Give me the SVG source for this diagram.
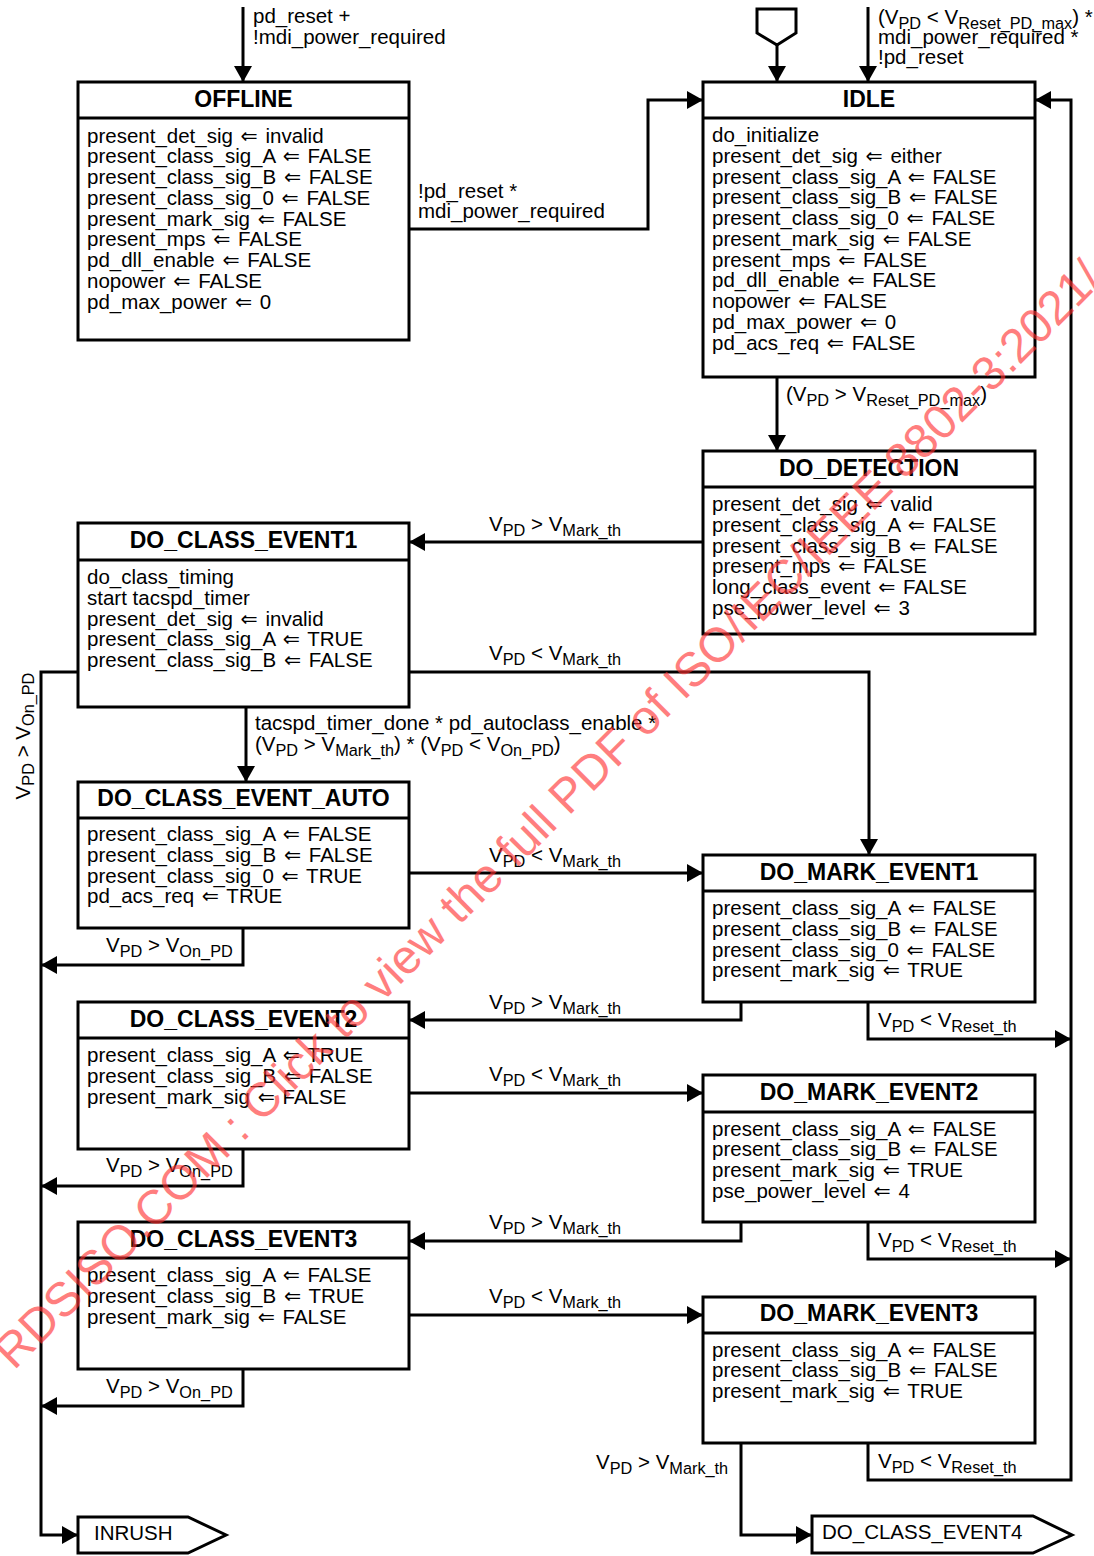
<svg xmlns="http://www.w3.org/2000/svg" width="1094" height="1556" viewBox="0 0 1094 1556">
<style>
.box{fill:#fff;stroke:#000;stroke-width:3}
.dv{stroke:#000;stroke-width:3}
.ln{fill:none;stroke:#000;stroke-width:3}
text{font-family:"Liberation Sans",Arial,"DejaVu Sans",sans-serif;font-size:20.5px;fill:#000}
.h{font-weight:bold;font-size:23px;text-anchor:middle}
.s{font-size:16.3px}
.wm{font-size:48px;fill:#ff3030;opacity:0.62}
</style>
<defs>
<marker id="a" markerUnits="userSpaceOnUse" markerWidth="16" markerHeight="18" refX="16" refY="9" orient="auto" viewBox="0 0 16 18"><path d="M0,0 L16,9 L0,18 z" fill="#000"/></marker>
</defs>
<rect width="1094" height="1556" fill="#fff"/>

<g id="connectors">
<path class="ln" d="M243,7 V82" marker-end="url(#a)"/>
<path class="ln" d="M868,7 V82" marker-end="url(#a)"/>
<path class="ln" d="M777,45 V82" marker-end="url(#a)"/>
<path class="ln" d="M409,229 H648 V100 H703" marker-end="url(#a)"/>
<path class="ln" d="M777,377 V451" marker-end="url(#a)"/>
<path class="ln" d="M703,542 H409" marker-end="url(#a)"/>
<path class="ln" d="M409,672 H869 V855" marker-end="url(#a)"/>
<path class="ln" d="M78,672 H41 V1535 H78" marker-end="url(#a)"/>
<path class="ln" d="M246,707 V782" marker-end="url(#a)"/>
<path class="ln" d="M409,873 H703" marker-end="url(#a)"/>
<path class="ln" d="M243,928 V965 H41" marker-end="url(#a)"/>
<path class="ln" d="M741,1002 V1020 H409" marker-end="url(#a)"/>
<path class="ln" d="M868,1002 V1039 H1071" marker-end="url(#a)"/>
<path class="ln" d="M409,1093 H703" marker-end="url(#a)"/>
<path class="ln" d="M243,1149 V1186 H41" marker-end="url(#a)"/>
<path class="ln" d="M741,1222 V1241 H409" marker-end="url(#a)"/>
<path class="ln" d="M868,1222 V1259 H1071" marker-end="url(#a)"/>
<path class="ln" d="M409,1315 H703" marker-end="url(#a)"/>
<path class="ln" d="M243,1369 V1406 H41" marker-end="url(#a)"/>
<path class="ln" d="M741,1443 V1535 H812" marker-end="url(#a)"/>
<path class="ln" d="M868,1443 V1480 H1071 V100 H1035" marker-end="url(#a)"/>

<text x="253" y="23">pd_reset +</text>
<text x="253" y="43.5">!mdi_power_required</text>
<text x="878" y="24">(V<tspan class="s" dy="4.5">PD</tspan><tspan dy="-4.5"> &lt; V</tspan><tspan class="s" dy="4.5">Reset_PD_max</tspan><tspan dy="-4.5">) *</tspan></text>
<text x="878" y="44">mdi_power_required *</text>
<text x="878" y="64">!pd_reset</text>
<text x="418" y="197.5">!pd_reset *</text>
<text x="418" y="218">mdi_power_required</text>
<text x="786" y="401">(V<tspan class="s" dy="4.5">PD</tspan><tspan dy="-4.5"> &gt; V</tspan><tspan class="s" dy="4.5">Reset_PD_max</tspan><tspan dy="-4.5">)</tspan></text>
<text x="489" y="531">V<tspan class="s" dy="4.5">PD</tspan><tspan dy="-4.5"> &gt; V</tspan><tspan class="s" dy="4.5">Mark_th</tspan></text>
<text x="489" y="660">V<tspan class="s" dy="4.5">PD</tspan><tspan dy="-4.5"> &lt; V</tspan><tspan class="s" dy="4.5">Mark_th</tspan></text>
<text x="255" y="730">tacspd_timer_done * pd_autoclass_enable *</text>
<text x="255" y="751">(V<tspan class="s" dy="4.5">PD</tspan><tspan dy="-4.5"> &gt; V</tspan><tspan class="s" dy="4.5">Mark_th</tspan><tspan dy="-4.5">) * (V</tspan><tspan class="s" dy="4.5">PD</tspan><tspan dy="-4.5"> &lt; V</tspan><tspan class="s" dy="4.5">On_PD</tspan><tspan dy="-4.5">)</tspan></text>
<text x="489" y="862">V<tspan class="s" dy="4.5">PD</tspan><tspan dy="-4.5"> &lt; V</tspan><tspan class="s" dy="4.5">Mark_th</tspan></text>
<text x="106" y="952">V<tspan class="s" dy="4.5">PD</tspan><tspan dy="-4.5"> &gt; V</tspan><tspan class="s" dy="4.5">On_PD</tspan></text>
<text x="489" y="1009">V<tspan class="s" dy="4.5">PD</tspan><tspan dy="-4.5"> &gt; V</tspan><tspan class="s" dy="4.5">Mark_th</tspan></text>
<text x="878" y="1027">V<tspan class="s" dy="4.5">PD</tspan><tspan dy="-4.5"> &lt; V</tspan><tspan class="s" dy="4.5">Reset_th</tspan></text>
<text x="489" y="1081">V<tspan class="s" dy="4.5">PD</tspan><tspan dy="-4.5"> &lt; V</tspan><tspan class="s" dy="4.5">Mark_th</tspan></text>
<text x="106" y="1172">V<tspan class="s" dy="4.5">PD</tspan><tspan dy="-4.5"> &gt; V</tspan><tspan class="s" dy="4.5">On_PD</tspan></text>
<text x="489" y="1229">V<tspan class="s" dy="4.5">PD</tspan><tspan dy="-4.5"> &gt; V</tspan><tspan class="s" dy="4.5">Mark_th</tspan></text>
<text x="878" y="1247">V<tspan class="s" dy="4.5">PD</tspan><tspan dy="-4.5"> &lt; V</tspan><tspan class="s" dy="4.5">Reset_th</tspan></text>
<text x="489" y="1303">V<tspan class="s" dy="4.5">PD</tspan><tspan dy="-4.5"> &lt; V</tspan><tspan class="s" dy="4.5">Mark_th</tspan></text>
<text x="106" y="1393">V<tspan class="s" dy="4.5">PD</tspan><tspan dy="-4.5"> &gt; V</tspan><tspan class="s" dy="4.5">On_PD</tspan></text>
<text x="596" y="1469">V<tspan class="s" dy="4.5">PD</tspan><tspan dy="-4.5"> &gt; V</tspan><tspan class="s" dy="4.5">Mark_th</tspan></text>
<text x="878" y="1468">V<tspan class="s" dy="4.5">PD</tspan><tspan dy="-4.5"> &lt; V</tspan><tspan class="s" dy="4.5">Reset_th</tspan></text>
<text transform="translate(29.5,736) rotate(-90)" text-anchor="middle">V<tspan class="s" dy="4.5">PD</tspan><tspan dy="-4.5"> &gt; V</tspan><tspan class="s" dy="4.5">On_PD</tspan></text>
</g>

<g id="init">
<polygon class="box" points="757,9 796,9 796,33 777,45 757,33"/>
</g>

<g id="offline">
<rect class="box" x="78" y="82" width="331" height="258"/>
<line class="dv" x1="78" y1="118" x2="409" y2="118"/>
<text class="h" x="243.5" y="106.5">OFFLINE</text>
<text x="87" y="142.5">present_det_sig <tspan dx="2">⇐</tspan><tspan dx="2"> invalid</tspan></text>
<text x="87" y="163.25">present_class_sig_A <tspan dx="2">⇐</tspan><tspan dx="2"> FALSE</tspan></text>
<text x="87" y="184">present_class_sig_B <tspan dx="2">⇐</tspan><tspan dx="2"> FALSE</tspan></text>
<text x="87" y="204.75">present_class_sig_0 <tspan dx="2">⇐</tspan><tspan dx="2"> FALSE</tspan></text>
<text x="87" y="225.5">present_mark_sig <tspan dx="2">⇐</tspan><tspan dx="2"> FALSE</tspan></text>
<text x="87" y="246.25">present_mps <tspan dx="2">⇐</tspan><tspan dx="2"> FALSE</tspan></text>
<text x="87" y="267">pd_dll_enable <tspan dx="2">⇐</tspan><tspan dx="2"> FALSE</tspan></text>
<text x="87" y="287.75">nopower <tspan dx="2">⇐</tspan><tspan dx="2"> FALSE</tspan></text>
<text x="87" y="308.5">pd_max_power <tspan dx="2">⇐</tspan><tspan dx="2"> 0</tspan></text>
</g>

<g id="idle">
<rect class="box" x="703" y="82" width="332" height="295"/>
<line class="dv" x1="703" y1="118" x2="1035" y2="118"/>
<text class="h" x="869" y="106.5">IDLE</text>
<text x="712" y="142">do_initialize</text>
<text x="712" y="162.75">present_det_sig <tspan dx="2">⇐</tspan><tspan dx="2"> either</tspan></text>
<text x="712" y="183.5">present_class_sig_A <tspan dx="2">⇐</tspan><tspan dx="2"> FALSE</tspan></text>
<text x="712" y="204.25">present_class_sig_B <tspan dx="2">⇐</tspan><tspan dx="2"> FALSE</tspan></text>
<text x="712" y="225">present_class_sig_0 <tspan dx="2">⇐</tspan><tspan dx="2"> FALSE</tspan></text>
<text x="712" y="245.75">present_mark_sig <tspan dx="2">⇐</tspan><tspan dx="2"> FALSE</tspan></text>
<text x="712" y="266.5">present_mps <tspan dx="2">⇐</tspan><tspan dx="2"> FALSE</tspan></text>
<text x="712" y="287.25">pd_dll_enable <tspan dx="2">⇐</tspan><tspan dx="2"> FALSE</tspan></text>
<text x="712" y="308">nopower <tspan dx="2">⇐</tspan><tspan dx="2"> FALSE</tspan></text>
<text x="712" y="328.75">pd_max_power <tspan dx="2">⇐</tspan><tspan dx="2"> 0</tspan></text>
<text x="712" y="349.5">pd_acs_req <tspan dx="2">⇐</tspan><tspan dx="2"> FALSE</tspan></text>
</g>

<g id="do_detection">
<rect class="box" x="703" y="451" width="332" height="183"/>
<line class="dv" x1="703" y1="487" x2="1035" y2="487"/>
<text class="h" x="869" y="475.5">DO_DETECTION</text>
<text x="712" y="511">present_det_sig <tspan dx="2">⇐</tspan><tspan dx="2"> valid</tspan></text>
<text x="712" y="531.75">present_class_sig_A <tspan dx="2">⇐</tspan><tspan dx="2"> FALSE</tspan></text>
<text x="712" y="552.5">present_class_sig_B <tspan dx="2">⇐</tspan><tspan dx="2"> FALSE</tspan></text>
<text x="712" y="573.25">present_mps <tspan dx="2">⇐</tspan><tspan dx="2"> FALSE</tspan></text>
<text x="712" y="594">long_class_event <tspan dx="2">⇐</tspan><tspan dx="2"> FALSE</tspan></text>
<text x="712" y="614.75">pse_power_level <tspan dx="2">⇐</tspan><tspan dx="2"> 3</tspan></text>
</g>

<g id="do_class_event1">
<rect class="box" x="78" y="523" width="331" height="184"/>
<line class="dv" x1="78" y1="560" x2="409" y2="560"/>
<text class="h" x="243.5" y="548">DO_CLASS_EVENT1</text>
<text x="87" y="584">do_class_timing</text>
<text x="87" y="604.75">start tacspd_timer</text>
<text x="87" y="625.5">present_det_sig <tspan dx="2">⇐</tspan><tspan dx="2"> invalid</tspan></text>
<text x="87" y="646.25">present_class_sig_A <tspan dx="2">⇐</tspan><tspan dx="2"> TRUE</tspan></text>
<text x="87" y="667">present_class_sig_B <tspan dx="2">⇐</tspan><tspan dx="2"> FALSE</tspan></text>
</g>

<g id="do_class_event_auto">
<rect class="box" x="78" y="782" width="331" height="146"/>
<line class="dv" x1="78" y1="818" x2="409" y2="818"/>
<text class="h" x="243.5" y="806">DO_CLASS_EVENT_AUTO</text>
<text x="87" y="841">present_class_sig_A <tspan dx="2">⇐</tspan><tspan dx="2"> FALSE</tspan></text>
<text x="87" y="861.75">present_class_sig_B <tspan dx="2">⇐</tspan><tspan dx="2"> FALSE</tspan></text>
<text x="87" y="882.5">present_class_sig_0 <tspan dx="2">⇐</tspan><tspan dx="2"> TRUE</tspan></text>
<text x="87" y="903.25">pd_acs_req <tspan dx="2">⇐</tspan><tspan dx="2"> TRUE</tspan></text>
</g>

<g id="do_mark_event1">
<rect class="box" x="703" y="855" width="332" height="147"/>
<line class="dv" x1="703" y1="891" x2="1035" y2="891"/>
<text class="h" x="869" y="880">DO_MARK_EVENT1</text>
<text x="712" y="915">present_class_sig_A <tspan dx="2">⇐</tspan><tspan dx="2"> FALSE</tspan></text>
<text x="712" y="935.75">present_class_sig_B <tspan dx="2">⇐</tspan><tspan dx="2"> FALSE</tspan></text>
<text x="712" y="956.5">present_class_sig_0 <tspan dx="2">⇐</tspan><tspan dx="2"> FALSE</tspan></text>
<text x="712" y="977.25">present_mark_sig <tspan dx="2">⇐</tspan><tspan dx="2"> TRUE</tspan></text>
</g>

<g id="do_class_event2">
<rect class="box" x="78" y="1002" width="331" height="147"/>
<line class="dv" x1="78" y1="1038" x2="409" y2="1038"/>
<text class="h" x="243.5" y="1026.5">DO_CLASS_EVENT2</text>
<text x="87" y="1062">present_class_sig_A <tspan dx="2">⇐</tspan><tspan dx="2"> TRUE</tspan></text>
<text x="87" y="1082.75">present_class_sig_B <tspan dx="2">⇐</tspan><tspan dx="2"> FALSE</tspan></text>
<text x="87" y="1103.5">present_mark_sig <tspan dx="2">⇐</tspan><tspan dx="2"> FALSE</tspan></text>
</g>

<g id="do_mark_event2">
<rect class="box" x="703" y="1075" width="332" height="147"/>
<line class="dv" x1="703" y1="1112" x2="1035" y2="1112"/>
<text class="h" x="869" y="1100">DO_MARK_EVENT2</text>
<text x="712" y="1135.5">present_class_sig_A <tspan dx="2">⇐</tspan><tspan dx="2"> FALSE</tspan></text>
<text x="712" y="1156.25">present_class_sig_B <tspan dx="2">⇐</tspan><tspan dx="2"> FALSE</tspan></text>
<text x="712" y="1177">present_mark_sig <tspan dx="2">⇐</tspan><tspan dx="2"> TRUE</tspan></text>
<text x="712" y="1197.75">pse_power_level <tspan dx="2">⇐</tspan><tspan dx="2"> 4</tspan></text>
</g>

<g id="do_class_event3">
<rect class="box" x="78" y="1222" width="331" height="147"/>
<line class="dv" x1="78" y1="1258" x2="409" y2="1258"/>
<text class="h" x="243.5" y="1246.5">DO_CLASS_EVENT3</text>
<text x="87" y="1282">present_class_sig_A <tspan dx="2">⇐</tspan><tspan dx="2"> FALSE</tspan></text>
<text x="87" y="1302.75">present_class_sig_B <tspan dx="2">⇐</tspan><tspan dx="2"> TRUE</tspan></text>
<text x="87" y="1323.5">present_mark_sig <tspan dx="2">⇐</tspan><tspan dx="2"> FALSE</tspan></text>
</g>

<g id="do_mark_event3">
<rect class="box" x="703" y="1297" width="332" height="146"/>
<line class="dv" x1="703" y1="1333" x2="1035" y2="1333"/>
<text class="h" x="869" y="1321">DO_MARK_EVENT3</text>
<text x="712" y="1356.5">present_class_sig_A <tspan dx="2">⇐</tspan><tspan dx="2"> FALSE</tspan></text>
<text x="712" y="1377.25">present_class_sig_B <tspan dx="2">⇐</tspan><tspan dx="2"> FALSE</tspan></text>
<text x="712" y="1398">present_mark_sig <tspan dx="2">⇐</tspan><tspan dx="2"> TRUE</tspan></text>
</g>

<g id="inrush">
<polygon class="box" points="78,1517 188,1517 226,1535 188,1553 78,1553"/>
<text x="94" y="1540">INRUSH</text>
</g>

<g id="do_class_event4">
<polygon class="box" points="812,1516 1033,1516 1072,1535 1033,1553 812,1553"/>
<text x="822" y="1539">DO_CLASS_EVENT4</text>
</g>

<g id="watermark">
<text class="wm" transform="translate(14,1371) rotate(-45)">RDSISO.COM : Click to view the full PDF of ISO/IEC/IEEE 8802-3:2021/</text>
</g>
</svg>
